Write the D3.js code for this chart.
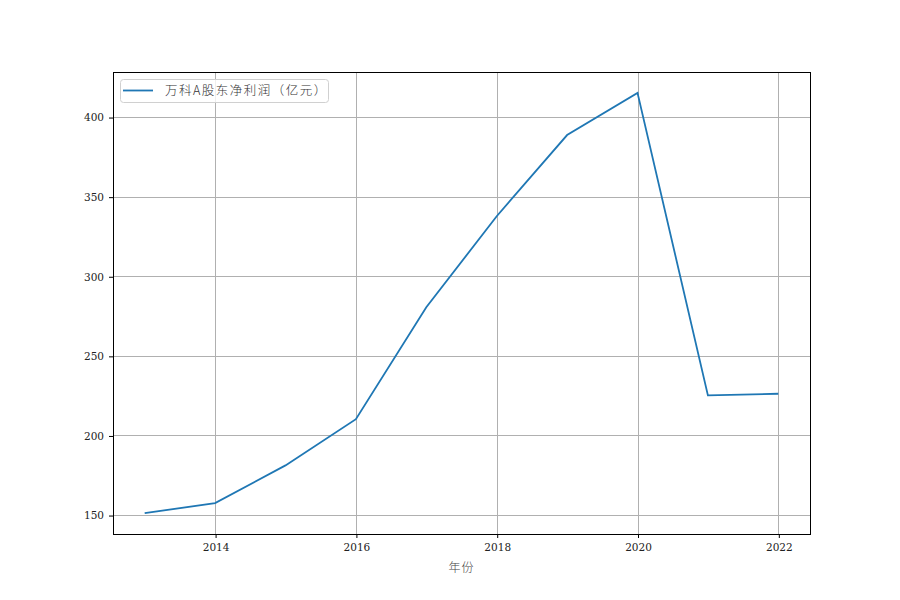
<!DOCTYPE html>
<html><head><meta charset="utf-8">
<script src="https://cdn.jsdelivr.net/npm/d3@7"></script>
<style>body{margin:0;background:#fff}</style>
</head><body>
<svg id="c" width="900" height="600"></svg>
<script>
const years = [2013,2014,2015,2016,2017,2018,2019,2020,2021,2022];
const profits = [151.2,157.5,181.2,210.2,280.5,337.7,388.7,415.2,225.2,226.2];
const xTicks = [2014,2016,2018,2020,2022];
const yTicks = [150,200,250,300,350,400];
const seriesName = "万科A股东净利润（亿元）";
const xLabel = "年份";

const svg = d3.select("#c");
const L=113,R=810,T=72,B=534;
const x = d3.scaleLinear().domain([2012.55,2022.45]).range([L,R]);
const y = d3.scaleLinear().domain([138.1,428.3]).range([B,T]);
const font = "'DejaVu Serif',serif";
const cjk = "'Noto Sans CJK SC',sans-serif";
const px = v => Math.round(v)+0.5;

svg.append("rect").attr("width",900).attr("height",600).attr("fill","#fff");

// grid
const g = svg.append("g");
g.selectAll(".gx").data(xTicks).enter().append("line")
 .attr("x1",d=>px(x(d))).attr("x2",d=>px(x(d))).attr("y1",T).attr("y2",B)
 .attr("stroke","#b0b0b0").attr("stroke-width",1);
g.selectAll(".gy").data(yTicks).enter().append("line")
 .attr("y1",d=>px(y(d))).attr("y2",d=>px(y(d))).attr("x1",L).attr("x2",R)
 .attr("stroke","#b0b0b0").attr("stroke-width",1);

// axes
const xa = svg.append("g").attr("transform",`translate(0.5,${B})`)
 .call(d3.axisBottom(x).tickValues(xTicks).tickFormat(d3.format("d")).tickSize(4).tickPadding(6));
const ya = svg.append("g").attr("transform",`translate(${L},0.5)`)
 .call(d3.axisLeft(y).tickValues(yTicks).tickSize(4).tickPadding(5));
[xa,ya].forEach(a=>{
  a.select(".domain").remove();
  a.selectAll("line").attr("stroke","#000").attr("stroke-width",1);
  a.selectAll("text").attr("font-family",font).attr("font-size",10.5).attr("fill","#222");
});

// line
svg.append("path").datum(years.map((d,i)=>[d,profits[i]]))
 .attr("d",d3.line().x(d=>x(d[0])).y(d=>y(d[1])))
 .attr("fill","none").attr("stroke","#1f77b4").attr("stroke-width",1.8);

// frame
svg.append("rect").attr("x",L+0.5).attr("y",T+0.5).attr("width",R-L).attr("height",B-T)
 .attr("fill","none").attr("stroke","#000").attr("stroke-width",1);

// x label
svg.append("text").attr("x",(L+R)/2).attr("y",572).attr("text-anchor","middle")
 .attr("font-family",cjk).attr("font-weight",300).attr("font-size",12).attr("letter-spacing",1)
 .attr("fill","#444").text(xLabel);

// legend
const lg = svg.append("g");
lg.append("rect").attr("x",120.5).attr("y",79.5).attr("width",208).attr("height",23).attr("rx",3)
 .attr("fill","#fff").attr("fill-opacity",0.8).attr("stroke","#d0d0d0").attr("stroke-width",1);
lg.append("line").attr("x1",123).attr("x2",153).attr("y1",90.5).attr("y2",90.5)
 .attr("stroke","#1f77b4").attr("stroke-width",1.8);
lg.append("text").attr("x",165).attr("y",95).attr("font-family",cjk).attr("font-weight",300)
 .attr("font-size",12.5).attr("fill","#333").attr("letter-spacing",1.5).text(seriesName);
</script>
</body></html>
